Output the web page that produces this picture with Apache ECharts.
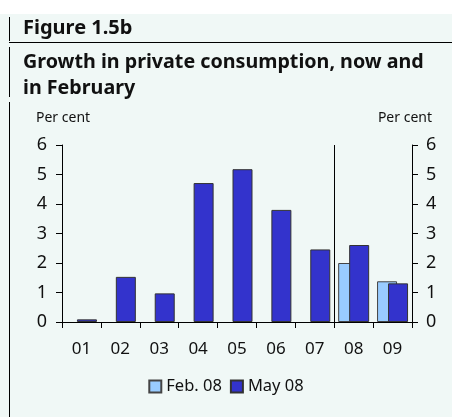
<!DOCTYPE html>
<html>
<head>
<meta charset="utf-8">
<script src="https://cdn.jsdelivr.net/npm/echarts@6/dist/echarts.min.js"></script>
<style>
  html, body { margin: 0; padding: 0; background: #fff; }
  #chart { width: 452px; height: 417px; }
</style>
</head>
<body>
<div id="chart"></div>
<script>
// data
const years = ['01', '02', '03', '04', '05', '06', '07', '08', '09']
const feb08 = [null, null, null, null, null, null, null, 2.0, 1.38]
const may08 = [0.09, 1.53, 0.97, 4.71, 5.18, 3.8, 2.46, 2.61, 1.31]
const yTicks = [0, 1, 2, 3, 4, 5, 6]
const forecastStart = 7 // boundary between 07 and 08

const font = 'Noto Sans'
const ink = '#111'
const bg = '#f0f8f6'

const chart = echarts.init(document.getElementById('chart'), null, { renderer: 'canvas' })

const option = {
  backgroundColor: '#fff',
  animation: false,
  textStyle: { fontFamily: font, color: ink },
  graphic: [
    { type: 'rect', shape: { x: 0, y: 14, width: 452, height: 403 }, style: { fill: bg }, silent: true },
    { type: 'line', shape: { x1: 9.5, y1: 17, x2: 9.5, y2: 41 }, style: { stroke: '#000', lineWidth: 1 } },
    { type: 'line', shape: { x1: 9, y1: 42.5, x2: 452, y2: 42.5 }, style: { stroke: '#000', lineWidth: 1 } },
    { type: 'line', shape: { x1: 9.5, y1: 47, x2: 9.5, y2: 97 }, style: { stroke: '#000', lineWidth: 1 } },
    { type: 'line', shape: { x1: 9.5, y1: 102, x2: 9.5, y2: 417 }, style: { stroke: '#000', lineWidth: 1 } },
    { type: 'text', left: 23, top: 18, style: { text: 'Figure 1.5b', font: 'bold 20px "Noto Sans"', fill: ink } },
    { type: 'text', left: 23, top: 49, style: { text: 'Growth in private consumption, now and\nin February', font: 'bold 19.7px "Noto Sans"', lineHeight: 26, fill: ink } },
    { type: 'text', left: 36, top: 111, style: { text: 'Per cent', font: '14px "Noto Sans"', fill: ink } },
    { type: 'text', right: 20, top: 111, style: { text: 'Per cent', font: '14px "Noto Sans"', fill: ink, align: 'right' } }
  ],
  legend: {
    bottom: 17,
    left: 'center',
    itemWidth: 12,
    itemHeight: 12,
    itemGap: 8,
    icon: 'rect',
    textStyle: { fontSize: 16.5, fontFamily: font, color: ink },
    data: ['Feb. 08', 'May 08']
  },
  grid: { left: 62, right: 40, top: 145, bottom: 95 },
  xAxis: [
    {
      type: 'category',
      data: years,
      axisLine: { lineStyle: { color: '#000', width: 1 } },
      axisTick: { show: true, length: 6, lineStyle: { color: '#000' } },
      axisLabel: { fontSize: 17, color: ink, margin: 19 }
    },
    { type: 'value', min: 0, max: years.length, show: false }
  ],
  yAxis: [
    {
      type: 'value', position: 'left', min: 0, max: 6, interval: 1,
      axisLine: { show: true, lineStyle: { color: '#000' } },
      axisTick: { show: true, length: 6, lineStyle: { color: '#000' } },
      axisLabel: { fontSize: 18, color: ink, margin: 15, formatter: v => yTicks.includes(v) ? String(v) : '' },
      splitLine: { show: false }
    },
    {
      type: 'value', position: 'right', min: 0, max: 6, interval: 1,
      axisLine: { show: true, lineStyle: { color: '#000' } },
      axisTick: { show: true, length: 6, lineStyle: { color: '#000' } },
      axisLabel: { fontSize: 18, color: ink, margin: 14, formatter: v => yTicks.includes(v) ? String(v) : '' },
      splitLine: { show: false }
    }
  ],
  series: [
    {
      name: 'Feb. 08',
      type: 'bar',
      data: feb08,
      barWidth: 20,
      barGap: '-45%',
      itemStyle: { color: '#99ccff', borderColor: '#444', borderWidth: 1 }
    },
    {
      name: 'May 08',
      type: 'bar',
      data: may08,
      barWidth: 20,
      itemStyle: { color: '#3333cc', borderColor: '#333', borderWidth: 1 }
    },
    {
      name: 'divider',
      type: 'line',
      xAxisIndex: 1,
      data: [],
      silent: true,
      markLine: {
        silent: true,
        symbol: 'none',
        label: { show: false },
        lineStyle: { color: '#000', width: 1, type: 'solid' },
        data: [{ xAxis: forecastStart }]
      }
    }
  ]
}

chart.setOption(option)
</script>
</body>
</html>
